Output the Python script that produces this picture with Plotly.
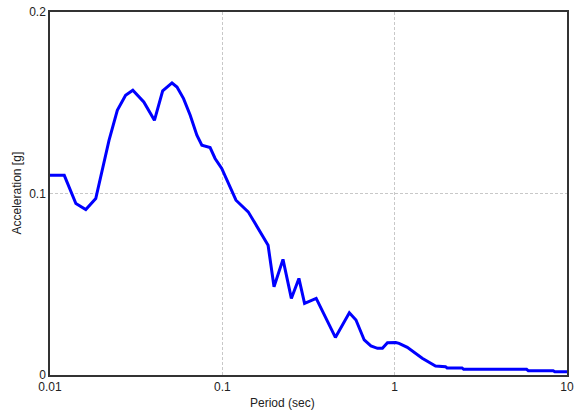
import plotly.graph_objects as go

period = [0.01, 0.0121, 0.01413, 0.01613, 0.01843, 0.0220, 0.02458, 0.02745, 0.03024, 0.03501,
          0.04036, 0.04506, 0.05105, 0.05457, 0.05957, 0.0651, 0.07116, 0.07605, 0.08492, 0.09076,
          0.0992, 0.1083, 0.12, 0.1413, 0.1764, 0.1843, 0.1995, 0.2249, 0.2515, 0.2782,
          0.300, 0.3505, 0.453, 0.5457, 0.5964, 0.6658, 0.7278, 0.7948, 0.849, 0.908,
          1.015, 1.06, 1.184, 1.445, 1.726, 1.972, 2.014, 2.459, 2.515, 5.83,
          5.96, 8.31, 8.5, 10.0]
accel = [0.110, 0.110, 0.0945, 0.0912, 0.0972, 0.1293, 0.1458, 0.1541, 0.1569, 0.1504,
         0.1403, 0.1565, 0.1609, 0.1587, 0.1523, 0.1431, 0.1321, 0.1266, 0.1253, 0.1193,
         0.1138, 0.1055, 0.0963, 0.0899, 0.0743, 0.0715, 0.0486, 0.0637, 0.0422, 0.0532,
         0.0395, 0.0422, 0.0207, 0.0343, 0.0303, 0.0193, 0.0160, 0.0147, 0.0147, 0.0178,
         0.0179, 0.0174, 0.0152, 0.0092, 0.0050, 0.0046, 0.0039, 0.0039, 0.0031, 0.0031,
         0.0024, 0.0024, 0.0018, 0.0018]

x_ticks = [0.01, 0.1, 1, 10]
x_ticktext = ["0.01", "0.1", "1", "10"]
y_ticks = [0, 0.1, 0.2]
y_ticktext = ["0", "0.1", "0.2"]

fig = go.Figure()
fig.add_trace(go.Scatter(x=period, y=accel, mode="lines",
                         line=dict(color="#0000ff", width=3), showlegend=False,
                         hoverinfo="x+y"))

font = dict(family="Liberation Sans, Arial, sans-serif", size=12, color="#222222")
fig.update_layout(
    width=574, height=416,
    margin=dict(l=50, r=7, t=12, b=41),
    paper_bgcolor="white", plot_bgcolor="white",
    font=font,
    xaxis=dict(type="log", range=[-2, 1], tickvals=x_ticks, ticktext=x_ticktext,
               showgrid=True, gridcolor="#c8c8c8", griddash="3px,2px", gridwidth=1,
               showline=True, linecolor="#333333", linewidth=1.5, mirror=True,
               ticks="", zeroline=False, automargin=False),
    yaxis=dict(range=[0, 0.2], tickvals=y_ticks, ticktext=y_ticktext,
               showgrid=True, gridcolor="#c8c8c8", griddash="3px,2px", gridwidth=1,
               showline=True, linecolor="#333333", linewidth=1.5, mirror=True,
               ticks="", zeroline=False, automargin=False),
    annotations=[
        dict(text="Period (sec)", xref="paper", yref="paper", x=0.449, y=0,
             xanchor="center", yanchor="middle", yshift=-28, showarrow=False, font=font),
        dict(text="Acceleration [g]", xref="paper", yref="paper", x=0, y=0.5,
             xanchor="center", yanchor="middle", xshift=-34, textangle=-90,
             showarrow=False, font=font),
    ],
)

fig.write_html("out.html", config={"displayModeBar": False},
               post_script="document.body.style.margin='0';")
